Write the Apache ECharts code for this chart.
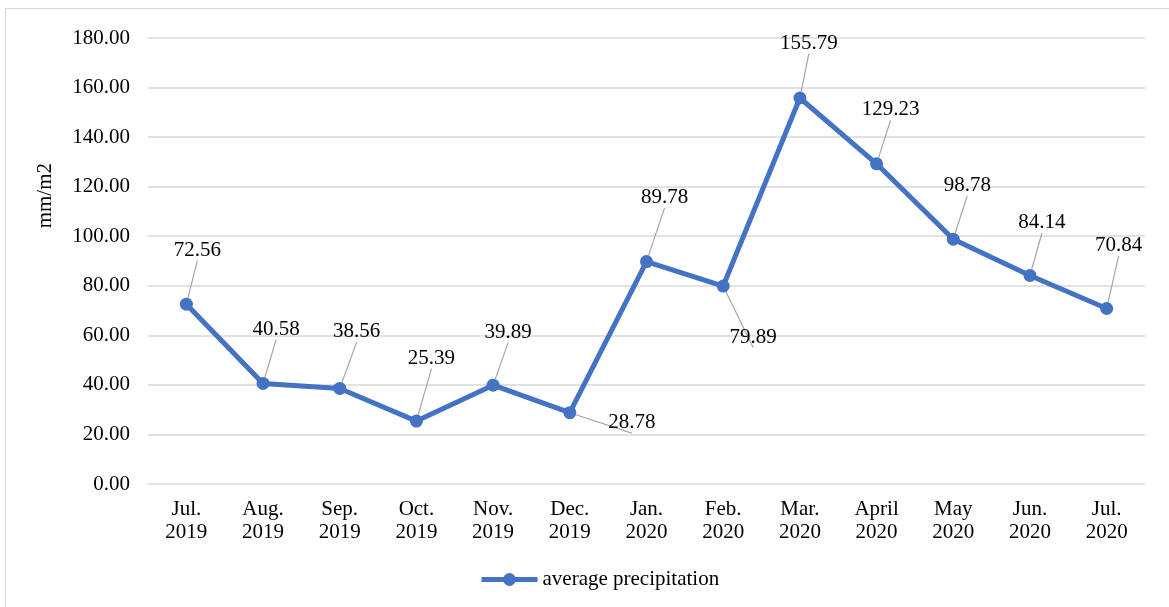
<!DOCTYPE html>
<html><head><meta charset="utf-8">
<script src="https://cdn.jsdelivr.net/npm/echarts@6/dist/echarts.min.js"></script>
<style>
html,body{margin:0;padding:0;background:#fff;}
#frame{position:absolute;left:5px;top:8px;width:1170px;height:610px;border:1px solid #d9d9d9;box-sizing:border-box;}
#c{position:absolute;left:0;top:0;width:1169px;height:607px;}
</style></head>
<body><div id="frame"></div><div id="c"></div>
<script>
const categories = ['Jul.\n2019','Aug.\n2019','Sep.\n2019','Oct.\n2019','Nov.\n2019','Dec.\n2019','Jan.\n2020','Feb.\n2020','Mar.\n2020','April\n2020','May\n2020','Jun.\n2020','Jul.\n2020'];
const precipitation = [72.56, 40.58, 38.56, 25.39, 39.89, 28.78, 89.78, 79.89, 155.79, 129.23, 98.78, 84.14, 70.84];
const labelOffsets = [[11,-54],[13,-54],[17,-57],[15,-63],[15,-53],[62,10],[18,-64],[30,51],[9,-55],[14,-54],[14,-54],[12,-53],[12,-63]];
const yTicks = {min:0, max:180, interval:20};
const font = '"Liberation Serif", "Times New Roman", serif';

const chart = echarts.init(document.getElementById('c'));
chart.setOption({
  animation:false,
  textStyle:{fontFamily:font},
  grid:{left:148,right:24,top:38,bottom:123},
  legend:{bottom:12,left:474,itemWidth:56,itemHeight:16,itemGap:4,
    lineStyle:{width:5},
    textStyle:{fontFamily:font,fontSize:21,color:'#000'},data:['average precipitation']},
  xAxis:{type:'category',data:categories,boundaryGap:true,
    axisLine:{show:false},axisTick:{show:false},
    axisLabel:{color:'#000',fontFamily:font,fontSize:21,lineHeight:23,margin:14,interval:0}},
  yAxis:{type:'value',min:yTicks.min,max:yTicks.max,interval:yTicks.interval,
    axisLine:{show:false},axisTick:{show:false},
    splitLine:{lineStyle:{color:'#d9d9d9',width:1.5}},
    axisLabel:{color:'#000',fontFamily:font,fontSize:21,margin:18,formatter:v=>v.toFixed(2)}},
  graphic:[{type:'text',left:35,top:163,rotation:Math.PI/2,
    style:{text:'mm/m2',fill:'#000',font:'21px '+font}}],
  series:[{name:'average precipitation',type:'line',
    data:precipitation.map((v,i)=>({value:v,label:{offset:labelOffsets[i]}})),
    symbol:'circle',symbolSize:13,
    lineStyle:{color:'#4472C4',width:5},
    itemStyle:{color:'#4472C4'},
    label:{show:true,position:'inside',color:'#000',fontFamily:font,fontSize:21,
      formatter:p=>p.value.toFixed(2)},
    labelLine:{show:true,lineStyle:{color:'#a6a6a6',width:1.2}}
  }]
});
</script></body></html>
